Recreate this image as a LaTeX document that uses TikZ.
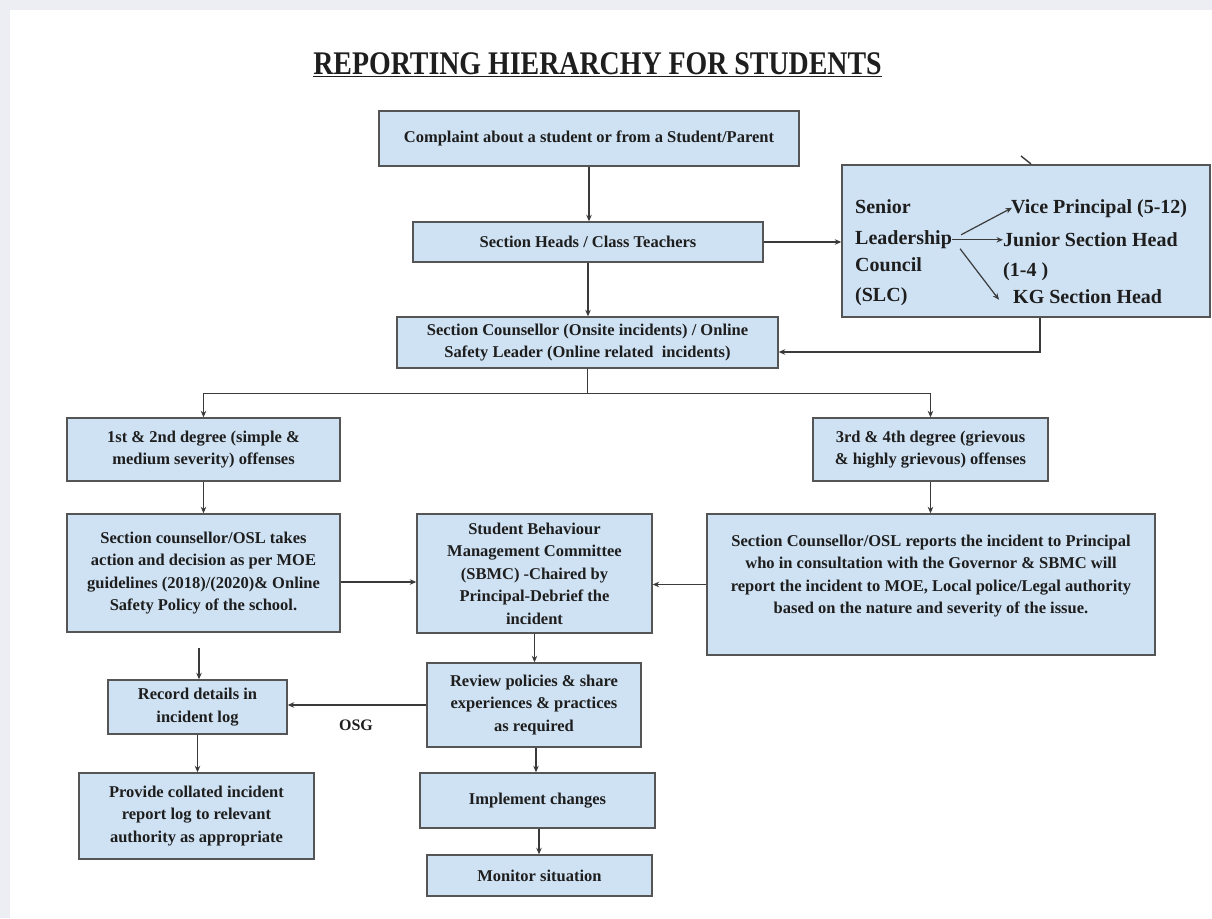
\documentclass[tikz,border=0pt]{standalone}
\usepackage{fontspec}
\setmainfont{Liberation Serif}
\usetikzlibrary{arrows.meta}
\definecolor{boxfill}{HTML}{CFE2F3}
\definecolor{boxline}{HTML}{555555}
\definecolor{linecol}{HTML}{3A3A3A}
\definecolor{txtcol}{HTML}{1E1E1E}
\definecolor{pagebg}{HTML}{ECEEF3}
\begin{document}
\begin{tikzpicture}[x=1pt,y=-1pt,
  box/.style={draw=boxline, fill=boxfill, line width=1.4pt, inner sep=0pt, align=center, text=txtcol, font=\fontsize{16.5}{22.5}\selectfont\bfseries},
  conn/.style={draw=linecol, line width=1.4pt, -{Stealth[length=6.5pt,width=5.5pt]}},
  plain/.style={draw=linecol, line width=1.4pt},
  slctxt/.style={inner sep=0pt, anchor=base west, text=txtcol, font=\fontsize{20}{26}\selectfont\bfseries},
  lbl/.style={inner sep=0pt, text=txtcol, font=\fontsize{16}{18}\selectfont\bfseries}]

\fill[pagebg] (0,0) rectangle (1212,918);
\fill[white] (10,10) rectangle (1212,918);
\useasboundingbox (0,0) rectangle (1212,918);

% title
\node[inner sep=0pt, text=txtcol, font=\fontsize{33}{36}\selectfont\bfseries] (title) at (597.5,65)
  {\scalebox{0.845}[1]{\underline{REPORTING HIERARCHY FOR STUDENTS}}};

% boxes
\node[box, minimum width=420pt, minimum height=55pt] (complaint) at (589,138.5)
  {Complaint about a student or from a Student/Parent};
\node[box, minimum width=350pt, minimum height=40pt] (heads) at (588,242)
  {Section Heads / Class Teachers};
\node[box, minimum width=368pt, minimum height=152pt] (slc) at (1026,241) {};
\node[box, minimum width=381pt, minimum height=51pt] (counsellor) at (587.5,342.5)
  {Section Counsellor (Onsite incidents) / Online\\Safety Leader (Online related\ \ incidents)};
\node[box, minimum width=273pt, minimum height=63pt] (deg12) at (203.5,449.5)
  {1st \& 2nd degree (simple \&\\medium severity) offenses};
\node[box, minimum width=273pt, minimum height=118pt] (action) at (203.5,573)
  {Section counsellor/OSL takes\\action and decision as per MOE\\guidelines (2018)/(2020)\& Online\\Safety Policy of the school.};
\node[box, minimum width=235pt, minimum height=119pt] (sbmc) at (534.5,573.5)
  {Student Behaviour\\Management Committee\\(SBMC) -Chaired by\\Principal-Debrief the\\incident};
\node[box, minimum width=214pt, minimum height=84pt] (review) at (534,705)
  {Review policies \& share\\experiences \& practices\\as required};
\node[box, minimum width=235pt, minimum height=63pt] (deg34) at (930.5,449.5)
  {3rd \& 4th degree (grievous\\\& highly grievous) offenses};
\node[box, minimum width=448pt, minimum height=141pt] (reports) at (931,584.5) {};
\node[inner sep=0pt, align=center, text=txtcol, font=\fontsize{16.5}{22.5}\selectfont\bfseries]
  (reportstext) at ([yshift=8.5pt]reports.center)
  {Section Counsellor/OSL reports the incident to Principal\\who in consultation with the Governor \& SBMC will\\report the incident to MOE, Local police/Legal authority\\based on the nature and severity of the issue.};
\node[box, minimum width=179pt, minimum height=54pt] (record) at (197.5,707)
  {Record details in\\incident log};
\node[box, minimum width=235pt, minimum height=86pt] (provide) at (196.5,816)
  {Provide collated incident\\report log to relevant\\authority as appropriate};
\node[box, minimum width=235pt, minimum height=55pt] (implement) at (537.5,800.5)
  {Implement changes};
\node[box, minimum width=225pt, minimum height=41pt] (monitor) at (539.5,875.5)
  {Monitor situation};

% SLC contents
\node[slctxt] (senior) at (855,213.6) {Senior};
\node[slctxt] (leadership) at (855,244.6) {Leadership};
\node[slctxt] (council) at (855,271.6) {Council};
\node[slctxt] (slcabbr) at (855,301.6) {(SLC)};
\node[slctxt] (vp) at (1011,213.6) {Vice Principal (5-12)};
\node[slctxt] (jsh) at (1003,246.6) {Junior Section Head};
\node[slctxt] (jshr) at (1003,276.6) {(1-4 )};
\node[slctxt] (kg) at (1013,303.6) {KG Section Head};

\draw[conn, line width=1.2pt] ([xshift=9pt,yshift=5pt]leadership.east) -- ([xshift=1pt,yshift=1pt]vp.west);
\draw[conn, line width=1.2pt] (leadership.east) -- (leadership.east -| jsh.west);
\draw[conn, line width=1.2pt] ([xshift=8pt,yshift=-9pt]leadership.east) -- ([xshift=-14pt,yshift=-3pt]kg.west);

% small stub on top of SLC box
\coordinate (stubA) at (1021,156);
\coordinate (stubB) at (1031,164);
\draw[plain] (stubA) -- (stubB);

% connectors
\draw[conn] (complaint.south) -- (complaint.south |- heads.north);
\draw[conn] (heads.east) -- (heads.east -| slc.west);
\draw[conn] (heads.south) -- (heads.south |- counsellor.north);
\draw[conn] ([xshift=14pt]slc.south) |- ([yshift=-9.5pt]counsellor.east);
\draw[plain] (counsellor.south) -- ++(0,25) coordinate (split);
\draw[conn] (split) -| (deg12.north);
\draw[conn] (split) -| (deg34.north);
\draw[conn] (deg12.south) -- (action.north);
\draw[conn] (deg34.south) -- (deg34.south |- reports.north);
\draw[conn] ([yshift=-9pt]action.east) -- ([yshift=-9pt]action.east -| sbmc.west);
\draw[conn] (reports.west) -- (reports.west -| sbmc.east);
\draw[conn] (sbmc.south) -- (sbmc.south |- review.north);
\coordinate (recstart) at (199,648);
\draw[conn] (recstart) -- (recstart |- record.north);
\draw[conn] (review.west) -- (review.west -| record.east);
\node[lbl] (osg) at (356,725) {OSG};
\draw[conn] (record.south) -- (record.south |- provide.north);
\draw[conn] ([xshift=2pt]review.south) -- ([xshift=2pt]review.south |- implement.north);
\draw[conn] ([xshift=1.5pt]implement.south) -- ([xshift=1.5pt]implement.south |- monitor.north);
\end{tikzpicture}
\end{document}
